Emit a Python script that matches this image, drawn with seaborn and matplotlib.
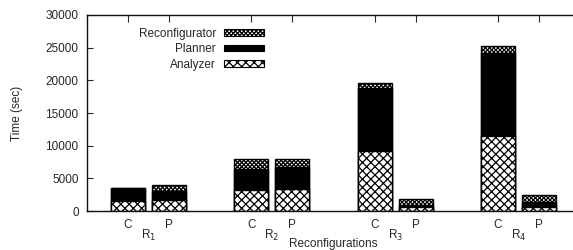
import matplotlib
matplotlib.use("Agg")
import matplotlib.pyplot as plt
import matplotlib.transforms as mtransforms
from matplotlib.patches import Patch
import seaborn as sns
import pandas as pd

# ---- data ----
groups = ["R$_1$", "R$_2$", "R$_3$", "R$_4$"]
configs = ["C", "P"]
analyzer = [1600, 1650, 3200, 3400, 9200, 550, 11500, 650]
planner = [1900, 1350, 3200, 3400, 9600, 400, 12700, 750]
reconfigurator = [50, 1000, 1600, 1100, 750, 850, 1000, 1100]
yticks = [0, 5000, 10000, 15000, 20000, 25000, 30000]

sns.set_theme(style="white")
plt.rcParams["font.family"] = ["Liberation Sans", "DejaVu Sans"]
plt.rcParams["hatch.linewidth"] = 0.9
FS = 8.5

# x positions: C/P bars, groups separated by a gap
xpos = [gi * 3 + ci for gi in range(len(groups)) for ci in range(len(configs))]
xlab = [c for _ in groups for c in configs]

tot_a = analyzer
tot_p = [a + p for a, p in zip(analyzer, planner)]
tot_r = [a + p + r for a, p, r in zip(analyzer, planner, reconfigurator)]
df = pd.DataFrame({"x": xpos, "A": tot_a, "P": tot_p, "R": tot_r})

fig = plt.figure(figsize=(5.73, 2.5), dpi=100)
ax = fig.add_axes([87 / 573, 39 / 250, 493 / 573, 196 / 250])

W = 0.83
layers = [("R", "white", "xxxxxxxx", "Reconfigurator"),
          ("P", "black", "", "Planner"),
          ("A", "white", "xxxx", "Analyzer")]
for col, fc, hatch, name in layers:
    sns.barplot(data=df, x="x", y=col, native_scale=True, width=W,
                color=fc, edgecolor="black", linewidth=1.0, hatch=hatch,
                saturation=1, ax=ax, errorbar=None)

ax.set_xlim(-1, 11)
ax.set_ylim(0, 30000)
ax.set_yticks(yticks)
ax.set_yticklabels([str(v) for v in yticks], fontsize=FS)
ax.set_xticks(xpos)
ax.set_xticklabels(xlab, fontsize=FS)
ax.tick_params(axis="y", direction="in", length=4, width=0.8, pad=6, left=True)
ax.tick_params(axis="x", direction="in", length=5, width=0.8, pad=6,
               bottom=True, top=True)
for s in ["left", "bottom", "top"]:
    ax.spines[s].set_visible(True)
    ax.spines[s].set_color("#111111")
    ax.spines[s].set_linewidth(1.0)
ax.spines["right"].set_visible(False)
ax.set_xlabel("")
ax.set_ylabel("Time (sec)", fontsize=FS)
ax.yaxis.set_label_coords(-0.13, 0.5)

trans = mtransforms.blended_transform_factory(ax.transData, fig.transFigure)
for gi, g in enumerate(groups):
    ax.text(gi * 3 + 0.5, 1 - 235 / 250, g, transform=trans, ha="center",
            va="center", fontsize=FS)
fig.text(333 / 573, 1 - 244 / 250, "Reconfigurations", ha="center",
         va="center", fontsize=FS)

handles = [Patch(facecolor=fc, edgecolor="black", hatch=h, label=n, linewidth=0.8)
           for _, fc, h, n in layers]
ax.legend(handles=handles, loc="upper right", bbox_to_anchor=(0.36, 0.935),
          frameon=False, markerfirst=False, fontsize=FS, handlelength=3.4,
          handleheight=0.5, labelspacing=0.3, handletextpad=0.7,
          borderpad=0, borderaxespad=0)

fig.savefig("out.png", dpi=100)
